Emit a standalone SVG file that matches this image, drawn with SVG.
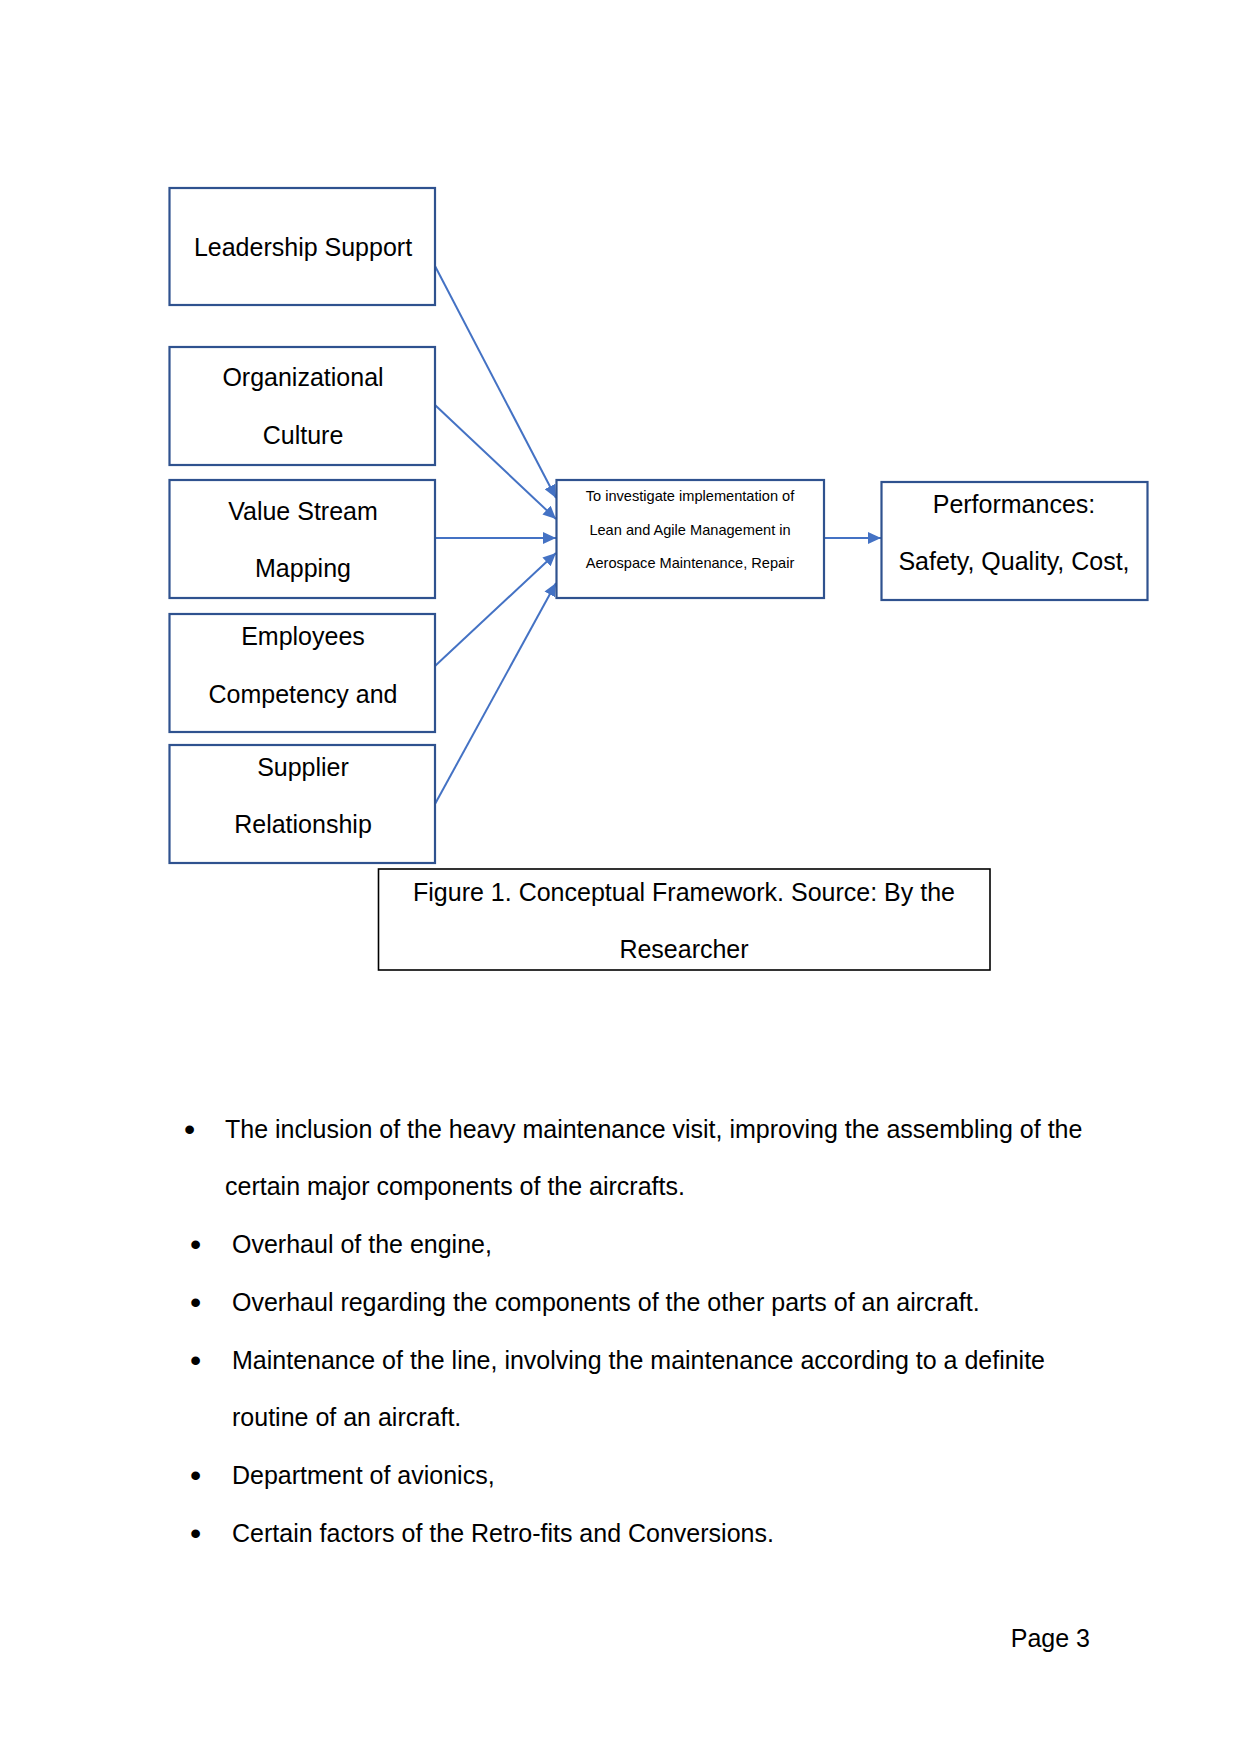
<svg xmlns="http://www.w3.org/2000/svg" width="1241" height="1754" viewBox="0 0 1241 1754">
<style>
text{font-family:"Liberation Sans",Arial,sans-serif;fill:#000;}
.box{fill:#fff;stroke:#2F528F;stroke-width:2.2;}
.cap{fill:#fff;stroke:#000;stroke-width:1.6;}
.n{font-size:25px;text-anchor:middle;}
.s{font-size:14.6px;text-anchor:middle;}
.b{font-size:25px;}
.d{font-size:32px;}
.con{stroke:#4472C4;stroke-width:2;fill:none;marker-end:url(#ah);}
</style>
<defs>
<marker id="ah" markerUnits="userSpaceOnUse" markerWidth="14" markerHeight="12" refX="13" refY="6" orient="auto">
<path d="M0,0 L13,6 L0,12 Z" fill="#4472C4"/>
</marker>
</defs>
<rect width="1241" height="1754" fill="#fff"/>
<g id="connectors">
<line class="con" x1="435" y1="266" x2="556" y2="498"/>
<line class="con" x1="435" y1="405" x2="556" y2="519"/>
<line class="con" x1="435" y1="538" x2="556" y2="538"/>
<line class="con" x1="435" y1="666" x2="556" y2="553"/>
<line class="con" x1="435" y1="804" x2="556" y2="583"/>
<line class="con" x1="824" y1="538" x2="881" y2="538"/>
</g>
<g id="leadership">
<rect class="box" x="169.5" y="188" width="265.5" height="117"/>
<text class="n" x="303" y="256">Leadership Support</text>
</g>
<g id="culture">
<rect class="box" x="169.5" y="347" width="265.5" height="118"/>
<text class="n" x="303" y="386">Organizational</text>
<text class="n" x="303" y="444">Culture</text>
</g>
<g id="vsm">
<rect class="box" x="169.5" y="480" width="265.5" height="118"/>
<text class="n" x="303" y="520">Value Stream</text>
<text class="n" x="303" y="577">Mapping</text>
</g>
<g id="employees">
<rect class="box" x="169.5" y="614" width="265.5" height="118"/>
<text class="n" x="303" y="645">Employees</text>
<text class="n" x="303" y="703">Competency and</text>
</g>
<g id="supplier">
<rect class="box" x="169.5" y="745" width="265.5" height="118"/>
<text class="n" x="303" y="776">Supplier</text>
<text class="n" x="303" y="833">Relationship</text>
</g>
<g id="center">
<rect class="box" x="556.5" y="480" width="267.5" height="118"/>
<text class="s" x="690" y="501">To investigate implementation of</text>
<text class="s" x="690" y="535">Lean and Agile Management in</text>
<text class="s" x="690" y="568">Aerospace Maintenance, Repair</text>
</g>
<g id="performances">
<rect class="box" x="881.5" y="482" width="266" height="118"/>
<text class="n" x="1014" y="513">Performances:</text>
<text class="n" x="1014" y="570">Safety, Quality, Cost,</text>
</g>
<g id="caption">
<rect class="cap" x="378.5" y="869" width="611.5" height="101"/>
<text class="n" x="684" y="901">Figure 1. Conceptual Framework. Source: By the</text>
<text class="n" x="684" y="958">Researcher</text>
</g>
<g id="bullets">
<text class="d" x="184" y="1140">•</text>
<text class="b" x="225" y="1138">The inclusion of the heavy maintenance visit, improving the assembling of the</text>
<text class="b" x="225" y="1195">certain major components of the aircrafts.</text>
<text class="d" x="190" y="1255">•</text>
<text class="b" x="232" y="1253">Overhaul of the engine,</text>
<text class="d" x="190" y="1313">•</text>
<text class="b" x="232" y="1311">Overhaul regarding the components of the other parts of an aircraft.</text>
<text class="d" x="190" y="1371">•</text>
<text class="b" x="232" y="1369">Maintenance of the line, involving the maintenance according to a definite</text>
<text class="b" x="232" y="1426">routine of an aircraft.</text>
<text class="d" x="190" y="1486">•</text>
<text class="b" x="232" y="1484">Department of avionics,</text>
<text class="d" x="190" y="1544">•</text>
<text class="b" x="232" y="1542">Certain factors of the Retro-fits and Conversions.</text>
</g>
<text class="b" x="1090" y="1647" text-anchor="end">Page 3</text>
</svg>
